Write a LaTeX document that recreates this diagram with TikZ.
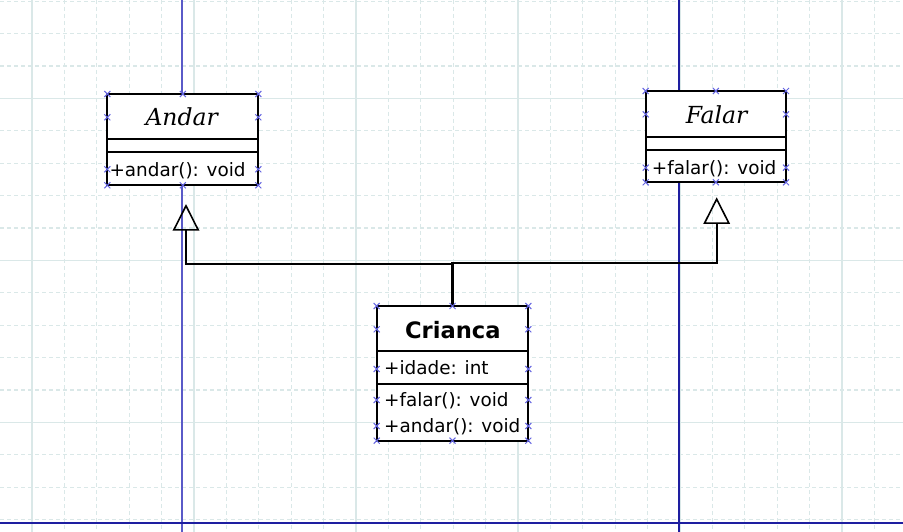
\documentclass[tikz,border=0pt]{standalone}
\usepackage{fontspec}
\setmainfont{DejaVu Sans}
\newfontfamily\serifface{DejaVu Serif}
\usetikzlibrary{arrows.meta}
\definecolor{gridc}{RGB}{218,232,232}
\definecolor{pagea}{RGB}{90,90,200}
\definecolor{pageb}{RGB}{30,30,160}
\definecolor{markc}{RGB}{100,100,225}
\tikzset{
 umlbox/.style={draw=black, line width=2.3pt, fill=white, inner sep=0pt, outer sep=0pt},
 sepline/.style={line width=2.2pt},
 mtext/.style={inner sep=0pt, anchor=base west, font=\fontsize{18.4}{22}\selectfont},
 itit/.style={inner sep=0pt, anchor=base, font=\serifface\itshape\fontsize{23.5}{28}\selectfont},
 btit/.style={inner sep=0pt, anchor=base, font=\bfseries\fontsize{22.6}{27}\selectfont},
 gen/.style={line width=2.2pt, -{Triangle[open, length=26.7pt, width=26.6pt, line width=1.6pt]}},
 cmark/.style={draw=markc, line width=1pt},
 gsolid/.style={draw=gridc, line width=1.3pt},
 gdash/.style={draw=gridc, line width=1.2pt, dash pattern=on 4pt off 3pt},
}
\begin{document}
\begin{tikzpicture}[x=1pt,y=-1pt]
\useasboundingbox (0,0) rectangle (903,532);
\fill[white] (0,0) rectangle (903,532);
% grid
\foreach \k in {0,...,28}{
  \pgfmathsetmacro\xx{-0.4+32.4*\k}
  \pgfmathtruncatemacro\m{mod(\k+4,5)}
  \ifnum\m=0 \draw[gsolid] (\xx,0) -- (\xx,532); \else \draw[gdash] (\xx,0) -- (\xx,532); \fi
}
\foreach \k in {0,...,16}{
  \pgfmathsetmacro\yy{1.2+32.4*\k}
  \pgfmathtruncatemacro\m{mod(\k+2,5)}
  \ifnum\m=0 \draw[gsolid] (0,\yy) -- (903,\yy); \else \draw[gdash] (0,\yy) -- (903,\yy); \fi
}
% page break lines
\draw[pagea, line width=1.6pt] (181.7,0) -- (181.7,532);
\draw[pageb, line width=1.6pt] (679.2,0) -- (679.2,532);
\draw[pageb, line width=1.8pt] (0,523) -- (903,523);
% Andar
\node[umlbox, minimum width=151pt, minimum height=91.3pt] (andar) at (182.8,139.65) {};
\draw[sepline] ([yshift=-44.7pt]andar.north west) -- ([yshift=-44.7pt]andar.north east);
\draw[sepline] ([yshift=-58pt]andar.north west) -- ([yshift=-58pt]andar.north east);
\node[itit] (andarname) at (181.7,125.7) {Andar};
\node[mtext] (andarop) at (109.3,176.7) {+andar(): void};
% Falar
\node[umlbox, minimum width=140.3pt, minimum height=91.3pt] (falar) at (715.85,136.65) {};
\draw[sepline] ([yshift=-46.3pt]falar.north west) -- ([yshift=-46.3pt]falar.north east);
\draw[sepline] ([yshift=-59pt]falar.north west) -- ([yshift=-59pt]falar.north east);
\node[itit] (falarname) at (716.7,124) {Falar};
\node[mtext] (falarop) at (651.7,174.3) {+falar(): void};
% Crianca
\node[umlbox, minimum width=151.6pt, minimum height=134.7pt] (crianca) at (452.5,373.35) {};
\draw[sepline] ([yshift=-45.3pt]crianca.north west) -- ([yshift=-45.3pt]crianca.north east);
\draw[sepline] ([yshift=-78.3pt]crianca.north west) -- ([yshift=-78.3pt]crianca.north east);
\node[btit] (criname) at (452.8,338.3) {Crianca};
\node[mtext] (criattr) at (384,374.3) {+idade: int};
\node[mtext] (criop1) at (384,406.7) {+falar(): void};
\node[mtext] (criop2) at (384,432.7) {+andar(): void};
% generalizations
\coordinate (andartip) at (186,204);
\coordinate (falartip) at (716.7,197.3);
\draw[gen] (crianca.north) -- ++(0,-42) -| (andartip);
\draw[gen] (crianca.north) -- ++(0,-43.3) -| (falartip);
% connection point marks
\foreach \a/\b in {107.3/94, 182.8/94, 258.3/94, 107.3/117.3, 258.3/117.3, 107.3/169.3, 258.3/169.3, 107.3/185.3, 182.8/185.3, 258.3/185.3,
  645.7/91, 715.85/91, 786/91, 645.7/114.3, 786/114.3, 645.7/167.7, 786/167.7, 645.7/182.3, 715.85/182.3, 786/182.3,
  376.7/306, 452.5/306, 528.3/306, 376.7/329.3, 528.3/329.3, 376.7/369, 528.3/369, 376.7/400, 528.3/400, 376.7/426, 528.3/426, 376.7/440.7, 452.5/440.7, 528.3/440.7}
  \draw[cmark] (\a-3,\b-3) -- (\a+3,\b+3) (\a-3,\b+3) -- (\a+3,\b-3);
\end{tikzpicture}
\end{document}
